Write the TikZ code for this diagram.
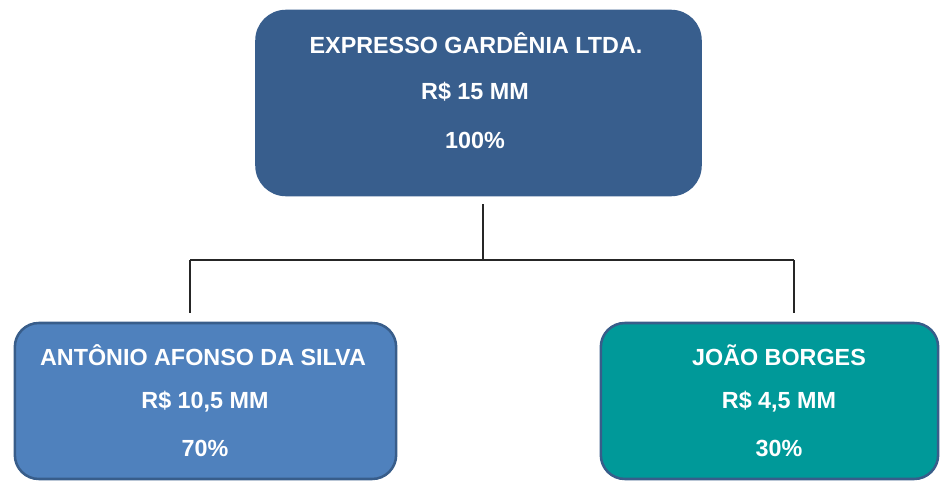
\documentclass[tikz,border=0pt]{standalone}
\usepackage{fontspec}
\setmainfont{Liberation Sans}
\usetikzlibrary{calc}
\definecolor{topfill}{RGB}{56,94,141}
\definecolor{leftfill}{RGB}{79,129,189}
\definecolor{rightfill}{RGB}{0,153,153}
\definecolor{edge}{RGB}{56,93,138}
\tikzset{
  box/.style={rectangle, inner sep=0pt, line width=1.9pt},
  txt/.style={text=white, font=\fontsize{17.5}{20}\selectfont\bfseries, inner sep=0pt},
  link/.style={line width=0.9pt, draw=black!85}
}
\begin{document}
\begin{tikzpicture}[x=0.75pt,y=-0.75pt]
\useasboundingbox (0,0) rectangle (940,481);
\node[box, fill=topfill, draw=topfill, rounded corners=22pt, minimum width=333pt, minimum height=138pt] (top) at (478.5,103) {};
\node[box, fill=leftfill, draw=edge, rounded corners=18pt, minimum width=286pt, minimum height=117pt] (lft) at (205.5,401) {};
\node[box, fill=rightfill, draw=edge, rounded corners=18pt, minimum width=253pt, minimum height=117pt] (rgt) at (769.5,401) {};
\node[txt] (t1) at (476,43) {EXPRESSO GARDÊNIA LTDA.};
\node[txt] (t2) at (475,92) {R\$ 15 MM};
\node[txt] (t3) at (475,140) {100\%};
\node[txt] (l1) at (203,355) {ANTÔNIO AFONSO DA SILVA};
\node[txt] (l2) at (205,402) {R\$ 10,5 MM};
\node[txt] (l3) at (205,448) {70\%};
\node[txt] (r1) at (779,355) {JOÃO BORGES};
\node[txt] (r2) at (779,402) {R\$ 4,5 MM};
\node[txt] (r3) at (779,448) {30\%};
\coordinate (j) at (483,260);
\coordinate (jl) at (190,260);
\coordinate (jr) at (794,260);
\draw[link] ($(top.south -| j)+(0,8)$) -- (j);
\draw[link] (jl) -- (jr);
\draw[link] (jl) -- ($(lft.north -| jl)+(0,-9)$);
\draw[link] (jr) -- ($(rgt.north -| jr)+(0,-9)$);
\end{tikzpicture}
\end{document}
